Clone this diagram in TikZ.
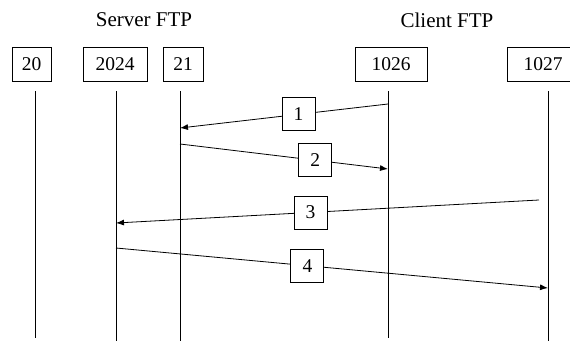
\documentclass[tikz,border=0pt]{standalone}
\usepackage{fontspec}
\setmainfont{Liberation Serif}
\usetikzlibrary{arrows.meta}
\begin{document}
\begin{tikzpicture}[x=1pt,y=-1pt,
  port/.style={draw,line width=0.8pt,minimum height=34pt,inner sep=0pt,font=\fontsize{19.5}{21}\selectfont},
  msgbox/.style={draw,fill=white,line width=0.8pt,minimum width=33pt,minimum height=33pt,inner sep=0pt,font=\fontsize{19.5}{21}\selectfont},
  lifeline/.style={line width=0.9pt},
  msg/.style={line width=0.8pt,-{Latex[length=8pt,width=6pt]}},
  title/.style={font=\fontsize{21}{23}\selectfont}]
\useasboundingbox (0,0) rectangle (570,340);
\fill[white] (0,0) rectangle (570,340);

% side titles
\node[title] (server) at (144,20) {Server FTP};
\node[title] (client) at (447,20) {Client FTP};

% port boxes
\node[port,minimum width=39pt] (p20)   at (31.5,64.5) {20};
\node[port,minimum width=64pt] (p2024) at (115,64.5) {2024};
\node[port,minimum width=40pt] (p21)   at (183,64.5) {21};
\node[port,minimum width=72pt] (p1026) at (391,64.5) {1026};
\node[port,minimum width=72pt] (p1027) at (543,64.5) {1027};

% lifelines
\coordinate (t20) at (35,91);    \coordinate (b20) at (35,338);
\coordinate (t2024) at (116,91); \coordinate (b2024) at (116,341);
\coordinate (t21) at (180,91);   \coordinate (b21) at (180,341);
\coordinate (t1026) at (388,91); \coordinate (b1026) at (388,338);
\coordinate (t1027) at (548,91); \coordinate (b1027) at (548,341);
\foreach \p in {20,2024,21,1026,1027}
  \draw[lifeline] (t\p) -- (b\p);

% message end points
\coordinate (s1) at (388,104); \coordinate (e1) at (180,128);
\coordinate (s2) at (180,144); \coordinate (e2) at (388,169);
\coordinate (s3) at (539,200); \coordinate (e3) at (116,223);
\coordinate (s4) at (116,248); \coordinate (e4) at (548,288);

% messages
\draw[msg] (s1) -- node[msgbox,pos=0.43] (m1) {1} (e1);
\draw[msg] (s2) -- node[msgbox,pos=0.65] (m2) {2} (e2);
\draw[msg] (s3) -- node[msgbox,pos=0.54] (m3) {3} (e3);
\draw[msg] (s4) -- node[msgbox,pos=0.443] (m4) {4} (e4);
\end{tikzpicture}
\end{document}
